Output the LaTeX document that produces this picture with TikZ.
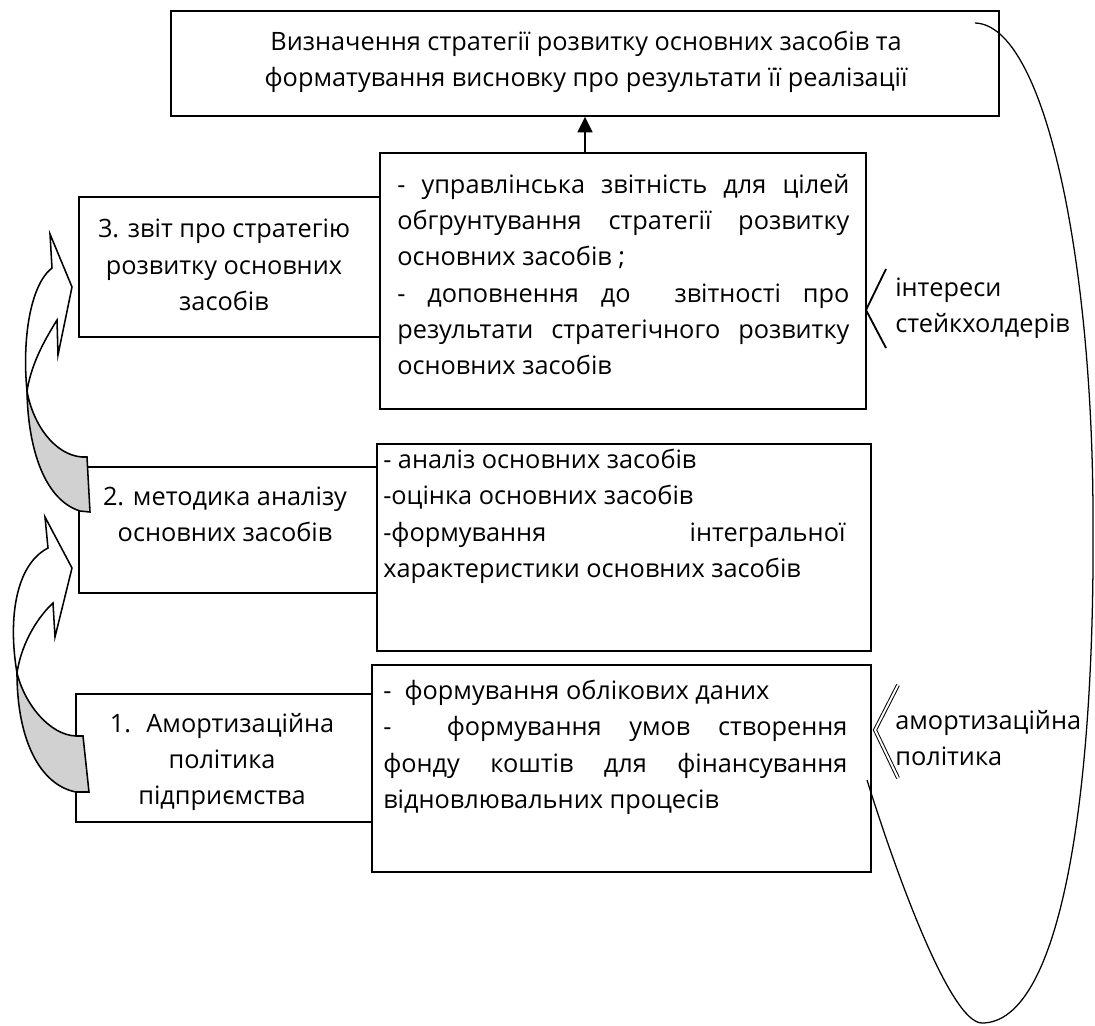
\documentclass[tikz,border=0pt]{standalone}
\usepackage{fontspec}
\setmainfont{Open Sans}
\usetikzlibrary{arrows.meta,positioning}
\tikzset{
  frame/.style={draw, line width=1.1pt, inner sep=0pt},
  txt/.style={font=\fontsize{18pt}{25.8pt}\selectfont, inner sep=0pt},
  twist/.style={draw, line width=1.1pt, fill=black!18},
  face/.style={draw, line width=1.1pt, fill=white},
  brace/.style={line width=1.3pt}
}

\begin{document}
\begin{tikzpicture}[x=0.025cm, y=-0.025cm]
  \useasboundingbox (0,0) rectangle (1095,1025);
  %%%%% BOXES %%%%%
  \node[frame, minimum width=20.7cm, minimum height=2.625cm] (goal) at (585,63.5) {};
  \node[txt, align=center] (goaltxt) at (586,62) {Визначення стратегії розвитку основних засобів та\\форматування висновку про результати її реалізації};

  \node[frame, minimum width=7.525cm, minimum height=3.5cm] (rep) at (229.5,267) {};
  \node[txt, align=center] (reptxt) at (224,265) {3. звіт про стратегію\\розвитку основних\\засобів};
  \node[frame, minimum width=12.15cm, minimum height=6.4cm] (repinfo) at (623,281) {};
  \node[txt, anchor=north west, text width=11.3cm, align=justify] (repinfotxt) at (397,174)
    {- управлінська звітність для цілей\linebreak обгрунтування стратегії розвитку\linebreak основних засобів ;\\
     - доповнення до~ звітності про\linebreak результати стратегічного розвитку\linebreak основних засобів};

  \node[frame, minimum width=7.45cm, minimum height=3.15cm] (meth) at (228,530) {};
  \node[txt, align=center] (methtxt) at (225,514) {2. методика аналізу\\основних засобів};
  \node[frame, minimum width=12.35cm, minimum height=5.175cm] (methinfo) at (624,547.5) {};
  \node[txt, anchor=north west, text width=11.55cm, align=justify] (methinfotxt) at (383,449)
    {- аналіз основних засобів\\ -оцінка основних засобів\\ -формування інтегральної\linebreak характеристики основних засобів};

  \node[frame, minimum width=7.4cm, minimum height=3.2cm] (amort) at (224,758) {};
  \node[txt, align=center] (amorttxt) at (222,762) {1.~ Амортизаційна\\політика\\підприємства};
  \node[frame, minimum width=12.475cm, minimum height=5.175cm] (amortinfo) at (621.5,768.5) {};
  \node[txt, anchor=north west, text width=11.6cm, align=justify] (amortinfotxt) at (383,680)
    {-~ формування облікових даних\\ -~ формування умов створення\linebreak фонду коштів для фінансування\linebreak відновлювальних процесів};

  %%%%% ARROW UP %%%%%
  \draw[line width=1.1pt, -{Triangle[length=11pt, width=10.6pt]}] (repinfo.north -| goal.south) -- (goal.south);

  %%%%% SIDE LABELS %%%%%
  \draw[brace] (886,269) -- (866,310) -- (886,348);
  \node[txt, anchor=west, align=left] (stake) at (895,308) {інтереси\\стейкхолдерів};
  \draw[brace, double, double distance=1.4pt, line width=0.7pt] (898,685) -- (875,730) -- (898,778);
  \node[txt, anchor=west, align=left] (policy) at (895,738) {амортизаційна\\політика};

  %%%%% LOOP %%%%%
  \coordinate (loopA) at (975,23);
  \coordinate (loopB) at (867,780);
  \draw[line width=0.9pt] (loopA) .. controls (1045,25) and (1093,260) .. (1093,520)
    .. controls (1095,800) and (1060,1023) .. (982,1023)
    .. controls (950,1023) and (895,870) .. (loopB);

  %%%%% CURVED ARROWS %%%%%
  \filldraw[twist] (27,391) .. controls (33,425) and (55,455) .. (82,457) -- (87,457) -- (90,512) -- (80,511)
    .. controls (45,500) and (28,450) .. (27,391) -- cycle;
  \filldraw[face] (27,391) .. controls (22,340) and (30,285) .. (52,268) -- (50,234) -- (72,287) -- (58,355) -- (57,320)
    .. controls (48,335) and (32,360) .. (27,391) -- cycle;

  \filldraw[twist] (17,673) .. controls (25,705) and (50,735) .. (76,736) -- (83,736) -- (89,792) -- (76,792)
    .. controls (40,785) and (17,740) .. (17,673) -- cycle;
  \filldraw[face] (17,673) .. controls (8,620) and (15,565) .. (48,548) -- (45,517) -- (72,568) -- (55,637) -- (53,603)
    .. controls (40,615) and (22,640) .. (17,673) -- cycle;
\end{tikzpicture}
\end{document}
